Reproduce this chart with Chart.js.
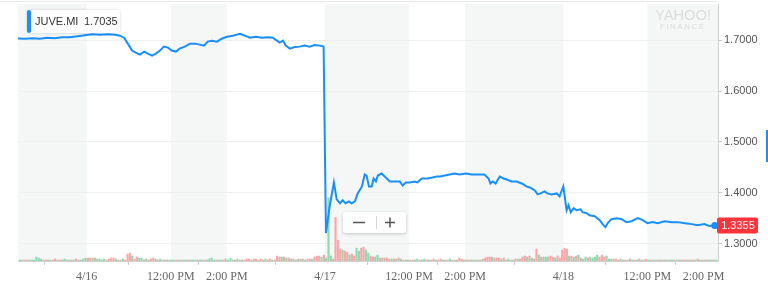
<!DOCTYPE html>
<html>
<head>
<meta charset="utf-8">
<script src="https://cdn.jsdelivr.net/npm/chart.js@4.4.1/dist/chart.umd.min.js"></script>
<style>
    html, body { margin: 0; padding: 0; background: #fff; }
    #contenedor { position: relative; width: 768px; height: 284px; }
</style>
</head>
<body>
<div id="contenedor"><canvas id="grafico-juve" width="768" height="284"></canvas></div>
<script>
/*
* Datos: JUVE.MI, 15/04 tarde hasta 18/04 (horario de bolsa 9:00 - 17:30)
*/
const simbolo = "JUVE.MI";

const horas15 = ["15:03","15:18","15:33","15:50","16:05","16:22","16:37","16:54","17:11","17:26"];
const precios15 = [1.7035,1.7029,1.7039,1.7029,1.7049,1.7039,1.7058,1.7058,1.7078,1.7097];

const horas16 = ["09:11","09:28","09:46","10:01","10:11","10:20","10:28","10:37","10:45","10:54",
    "11:03","11:11","11:20","11:28","11:37","11:45","11:54","12:02","12:11","12:19",
    "12:30","12:41","12:52","13:02","13:11","13:19","13:28","13:39","13:49","14:00",
    "14:13","14:28","14:39","14:49","15:02","15:15","15:28","15:38","15:47","15:53",
    "16:00","16:06","16:15","16:25","16:36","16:47","16:57","17:08","17:19","17:27"];
const precios16 = [1.7117,1.7107,1.7117,1.7107,1.7088,1.7049,1.6932,1.6795,1.6756,1.6717,
    1.6776,1.6737,1.6698,1.6737,1.6795,1.6873,1.6854,1.6795,1.6776,1.6834,
    1.6873,1.6932,1.6932,1.6912,1.6893,1.6971,1.6990,1.6971,1.7029,1.7068,
    1.7088,1.7127,1.7088,1.7049,1.7068,1.7049,1.7058,1.7049,1.6990,1.6951,
    1.6990,1.6893,1.6834,1.6864,1.6873,1.6893,1.6873,1.6903,1.6893,1.6873];

const horas17 = ["09:02","09:10","09:19","09:25","09:32","09:38","09:44","09:51","09:57","10:04",
    "10:10","10:19","10:25","10:29","10:34","10:40","10:44","10:49","10:53","11:01",
    "11:10","11:19","11:29","11:40","11:46","11:53","12:01","12:12","12:18","12:27",
    "12:40","12:50","12:59","13:07","13:16","13:27","13:37","13:48","14:01","14:14",
    "14:26","14:41","14:50","14:54","14:59","15:05","15:14","15:22","15:29","15:39",
    "15:50","16:01","16:11","16:18","16:22","16:29","16:35","16:41","16:50","16:56",
    "17:05","17:16","17:22","17:30"];
const precios17 = [1.3209,1.3734,1.4203,1.3871,1.3793,1.3852,1.3793,1.3832,1.3793,1.3832,
    1.3988,1.4125,1.4359,1.4339,1.4125,1.4125,1.4281,1.4222,1.4339,1.4378,
    1.4300,1.4222,1.4222,1.4222,1.4144,1.4203,1.4203,1.4222,1.4203,1.4281,
    1.4281,1.4300,1.4320,1.4320,1.4339,1.4359,1.4378,1.4359,1.4378,1.4359,
    1.4359,1.4359,1.4281,1.4183,1.4222,1.4183,1.4320,1.4281,1.4261,1.4222,
    1.4222,1.4183,1.4125,1.4105,1.4086,1.4047,1.3969,1.3988,1.4027,1.3988,
    1.3969,1.3988,1.3930,1.4125];

const horas18 = ["09:07","09:11","09:16","09:22","09:28","09:37","09:41","09:50","09:56","10:07",
    "10:18","10:24","10:30","10:35","10:43","10:54","11:05","11:15","11:26","11:39",
    "11:50","12:00","12:11","12:22","12:37","12:52","13:05","13:20","13:35","13:47",
    "14:02","14:13","14:24"];
const precios18 = [1.3657,1.3754,1.3618,1.3696,1.3657,1.3676,1.3618,1.3598,1.3559,1.3540,
    1.3462,1.3384,1.3325,1.3403,1.3481,1.3501,1.3481,1.3423,1.3442,1.3501,
    1.3462,1.3403,1.3423,1.3403,1.3442,1.3423,1.3423,1.3403,1.3384,1.3364,
    1.3384,1.3345,1.3355];

/*
* Volumen cada 5 minutos (x10k acciones), negativo = vela bajista
*/
const inicioVol = ["4/15 15:05","4/16 09:00","4/17 09:00","4/18 09:00"];
const vol15 = [1,1,-1,-1,1,1,1,4,3,2,-1,-1,1,1,-1,-2,-1,-1,1,2,-1,1,-1,1,-2,-1,1,2,3];
const vol16 = [-3,-3,3,-3,2,2,1,2,-1,-2,-3,-3,2,1,-1,2,-1,-7,-8,5,-2,-4,3,3,-1,2,-1,-2,-3,2,-1,2,-1,1,-1,1,1,
    1,-1,1,-1,1,1,-1,1,1,1,-1,1,1,-1,1,2,3,1,-1,1,1,-1,2,1,
    3,1,-1,2,-1,1,-1,-2,-2,1,-2,-2,1,-2,-1,2,-1,-2,1,-1,
    -5,-4,4,-4,3,-3,2,-2,1,-2,2,-2,1,-2,-2,2,-4,-5,-5,4,-6];
const vol17 = [3,64,5,-2,-44,-21,-12,11,-10,-9,6,-7,-5,13,10,-13,-14,11,8,-5,-4,4,6,-3,3,-3,-3,-2,2,-2,2,-3,2,-1,1,-1,
    1,-1,1,2,-1,1,2,-1,1,-1,-2,1,-1,-2,1,-1,1,2,-1,1,-1,-3,-2,1,-1,1,-1,1,
    1,-1,1,-2,-3,-4,-4,4,-3,-3,-3,2,-3,1,2,-1,
    1,-2,2,-2,-4,-5,4,-5,3,-2,-12,6,-4,4,4,-4,-5,-4,3,-5,-3,-11];
const vol18 = [-13,-12,5,-5,4,-5,6,-3,2,4,-3,4,3,4,6,-4,-6,-4,5,2,2,-2,-2,-1,2,1,-1,1,-2,1,-1,1,-2,1,-1,-2,
    1,-1,1,1,-1,1,-1,1,-1,1,1,-1,1,-1,1,-1,1,-1,1,-1,1,-2,1,-1,1,-1,1,1,-1,1];

/*
* Ejes
*/
const ejeXTiempos = ["4/16 09:00","4/16 12:00","4/16 14:00","4/17 09:00","4/17 12:00","4/17 14:00","4/18 09:00","4/18 12:00","4/18 14:00"];
const ejeXEtiquetas = ["4/16","12:00 PM","2:00 PM","4/17","12:00 PM","2:00 PM","4/18","12:00 PM","2:00 PM"];
const ejeYValores = [1.3, 1.4, 1.5, 1.6, 1.7];
const rangoX = ["4/15 15:03", "4/18 14:31"];
const rangoY = [1.2659, 1.7711];
const rangoVolumen = 260;

// horas de mercado acumuladas desde la apertura del 15/04
function posicion(texto)
{
    let partes = texto.split(" ");
    let dia = parseInt(partes[0].split("/")[1]);
    let hm = partes[1].split(":");
    return (dia - 15) * 8.5 + (parseInt(hm[0]) - 9) + parseInt(hm[1]) / 60;
}

let puntosPrecio = [];
[["4/15", horas15, precios15], ["4/16", horas16, precios16], ["4/17", horas17, precios17], ["4/18", horas18, precios18]].forEach(function (d) {
    d[1].forEach(function (h, i) {
        puntosPrecio.push({x: posicion(d[0] + " " + h), y: d[2][i]});
    });
});

let barrasVol = [];
let coloresVol = [];
[vol15, vol16, vol17, vol18].forEach(function (serie, k) {
    let base = posicion(inicioVol[k]);
    serie.forEach(function (v, i) {
        barrasVol.push({x: base + (i * 5 + 2.5) / 60, y: Math.abs(v)});
        coloresVol.push(v >= 0 ? "#8fd9b3" : "#f9a7a7");
    });
});

const ticksX = ejeXTiempos.map(posicion);
const ultimoPrecio = puntosPrecio[puntosPrecio.length - 1].y;
const primerPrecio = puntosPrecio[0].y;

/*
* Franjas grises y elementos de la interfaz
*/
function rectRedondo(c, x, y, w, h, r)
{
    c.beginPath();
    c.moveTo(x + r, y);
    c.lineTo(x + w - r, y);
    c.quadraticCurveTo(x + w, y, x + w, y + r);
    c.lineTo(x + w, y + h - r);
    c.quadraticCurveTo(x + w, y + h, x + w - r, y + h);
    c.lineTo(x + r, y + h);
    c.quadraticCurveTo(x, y + h, x, y + h - r);
    c.lineTo(x, y + r);
    c.quadraticCurveTo(x, y, x + r, y);
    c.closePath();
}

const pluginFondo = {
    id: "fondo",
    beforeDraw: function (chart) {
        let c = chart.ctx, a = chart.chartArea, sx = chart.scales.x;
        let limites = [sx.min].concat(ticksX).concat([sx.max]);
        c.save();
        c.fillStyle = "#f5f6f6";
        // alterna por intervalo entre marcas; el ultimo tramo sigue gris
        let tramos = [[0, 1], [2, 3], [4, 5], [6, 7], [8, 10]];
        tramos.forEach(function (t) {
            let x0 = sx.getPixelForValue(limites[t[0]]);
            let x1 = sx.getPixelForValue(limites[t[1]]);
            c.fillRect(x0, a.top, x1 - x0, a.bottom - a.top);
        });
        c.strokeStyle = "#e8e8e8";
        c.lineWidth = 1;
        c.beginPath();
        c.moveTo(0, 1.5);
        c.lineTo(a.right, 1.5);
        c.stroke();
        c.restore();
    },
    afterDraw: function (chart) {
        let c = chart.ctx, a = chart.chartArea, sy = chart.scales.y;
        c.save();

        // marca de agua
        c.fillStyle = "#dcdcdc";
        c.font = "15px 'Liberation Sans'";
        c.textBaseline = "alphabetic";
        c.textAlign = "left";
        c.fillText("YAHOO!", 655, 20, 56);
        c.font = "8px 'Liberation Sans'";
        c.letterSpacing = "1.5px";
        c.fillText("FINANCE", 660, 28.5, 46);
        c.letterSpacing = "0px";

        // leyenda
        c.shadowColor = "rgba(0,0,0,0.18)";
        c.shadowBlur = 3;
        c.fillStyle = "#fff";
        rectRedondo(c, 27, 10, 93, 23, 3);
        c.fill();
        c.shadowBlur = 0;
        c.shadowColor = "transparent";
        c.fillStyle = "#188fff";
        rectRedondo(c, 27, 10, 4, 23, 2);
        c.fill();
        c.fillStyle = "#333";
        c.font = "11px 'Liberation Sans'";
        c.textBaseline = "middle";
        c.fillText(simbolo, 35, 22);
        c.fillText(primerPrecio.toFixed(4), 84, 22);

        // botones de zoom
        c.shadowColor = "rgba(0,0,0,0.2)";
        c.shadowBlur = 3;
        c.shadowOffsetY = 1;
        c.fillStyle = "#fff";
        rectRedondo(c, 343, 212, 63, 21, 3);
        c.fill();
        c.shadowBlur = 0;
        c.shadowOffsetY = 0;
        c.shadowColor = "transparent";
        c.strokeStyle = "#d6d6d6";
        c.lineWidth = 1;
        c.beginPath();
        c.moveTo(376.5, 216);
        c.lineTo(376.5, 229);
        c.stroke();
        c.strokeStyle = "#555";
        c.lineWidth = 1.5;
        c.beginPath();
        c.moveTo(353, 222.5); c.lineTo(365, 222.5);
        c.moveTo(385, 222.5); c.lineTo(395, 222.5);
        c.moveTo(390, 217.5); c.lineTo(390, 227.5);
        c.stroke();

        // etiqueta de ultimo precio
        let yp = sy.getPixelForValue(ultimoPrecio);
        c.fillStyle = "#ff333a";
        rectRedondo(c, 717, yp - 8, 41, 16, 2);
        c.fill();
        c.fillStyle = "#fff";
        c.font = "11px 'Liberation Sans'";
        c.textAlign = "center";
        c.textBaseline = "middle";
        c.fillText(ultimoPrecio.toFixed(4), 738, yp + 0.5);

        // pestaña azul del borde
        c.fillStyle = "#188fff";
        c.fillRect(766, 130, 2, 32);
        c.restore();
    }
};

var ctx = document.getElementById("grafico-juve").getContext("2d");
var graficoJuve = new Chart(ctx, {
    type: "line",
    data: {
        datasets: [{
                label: simbolo,
                data: puntosPrecio,
                borderColor: "#188fff",
                borderWidth: 2,
                tension: 0,
                pointRadius: function (c) { return c.dataIndex === puntosPrecio.length - 1 ? 3.5 : 0; },
                pointBackgroundColor: "#188fff",
                pointBorderWidth: 0,
                yAxisID: "y",
                order: 1
            },
            {
                type: "bar",
                label: "Volumen",
                data: barrasVol,
                backgroundColor: coloresVol,
                barThickness: 1.5,
                yAxisID: "yv",
                order: 2
            }
        ]
    },
    options: {
        responsive: false,
        devicePixelRatio: 1,
        animation: false,
        layout: { padding: { left: 18, top: 2, right: 0, bottom: 0 } },
        plugins: { legend: { display: false }, tooltip: { enabled: false } },
        scales: {
            x: {
                type: "linear",
                offset: false,
                min: posicion(rangoX[0]),
                max: posicion(rangoX[1]),
                afterBuildTicks: function (s) { s.ticks = ticksX.map(function (v) { return {value: v}; }); },
                afterFit: function (s) { s.height = 23; s.paddingLeft = 0; s.paddingRight = 0; },
                ticks: {
                    autoSkip: false,
                    maxRotation: 0,
                    padding: 5,
                    color: "#666",
                    font: { family: "'Liberation Serif'", size: 12 },
                    callback: function (v, i) { return ejeXEtiquetas[i]; }
                },
                grid: { drawOnChartArea: false, drawTicks: true, tickLength: 4, color: "#ccc" },
                border: { display: true, color: "#d0d0d0" }
            },
            y: {
                position: "right",
                min: rangoY[0],
                max: rangoY[1],
                afterBuildTicks: function (s) { s.ticks = ejeYValores.map(function (v) { return {value: v}; }); },
                afterFit: function (s) { s.width = 50; s.paddingTop = 0; s.paddingBottom = 0; },
                ticks: {
                    padding: 2,
                    color: "#555",
                    font: { family: "'Liberation Sans'", size: 11 },
                    callback: function (v) { return Number(v).toFixed(4); }
                },
                grid: { color: "#efefef", tickColor: "#ccc", tickLength: 4 },
                border: { display: true, color: "#d0d0d0" }
            },
            yv: {
                display: false,
                min: 0,
                max: rangoVolumen
            }
        }
    },
    plugins: [pluginFondo]
});
</script>
</body>
</html>
